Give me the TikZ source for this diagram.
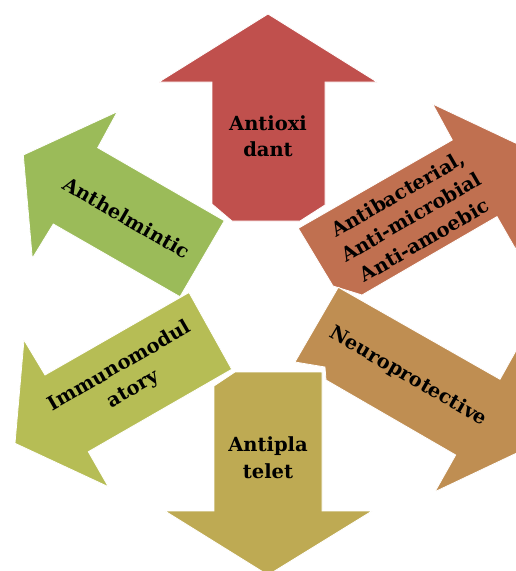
\documentclass[tikz,border=0pt]{standalone}
\usepackage{fontspec}
\setmainfont{DejaVu Serif}
\definecolor{cA}{RGB}{192,80,77}
\definecolor{cB}{RGB}{192,112,80}
\definecolor{cC}{RGB}{191,142,82}
\definecolor{cD}{RGB}{190,170,83}
\definecolor{cE}{RGB}{182,189,85}
\definecolor{cF}{RGB}{155,187,89}
\tikzset{
  arrowshape/.style={draw=white, line width=0.8pt, line join=miter},
  lbl/.style={font=\fontsize{19.5}{26.5}\selectfont\bfseries, align=center, inner sep=0pt, text=black}
}
\begin{document}
\begin{tikzpicture}[x=1pt,y=-1pt]
\useasboundingbox (0,0) rectangle (516,571);
\clip (0,0) rectangle (516,571);
% Antioxidant (up)
\fill[cA, arrowshape] (268,14) -- (377,82) -- (325,82) -- (325,205) -- (300,221) -- (232,221) -- (212,204) -- (212,82) -- (159,82) -- cycle;
% Antibacterial (up-right)
\fill[cB, arrowshape] (525,147.5) -- (516,249.7) -- (497,216.6) -- (362,295) -- (333,286) -- (298.3,228.3) -- (452.3,140) -- (432.7,104) -- cycle;
% Neuroprotective (down-right)
\fill[cC, arrowshape] (338.3,287.3) -- (500,379.3) -- (520.6,342.5) -- (529.5,447) -- (435,491.7) -- (455.7,455) -- (326,380) -- (325,367) -- (295,362) -- cycle;
% Antiplatelet (down)
\fill[cD, arrowshape] (214,386) -- (235,372) -- (322,372) -- (322,511) -- (372,511) -- (268,575) -- (165,511) -- (214,511) -- cycle;
% Immunomodulatory (down-left)
\fill[cE, arrowshape] (189,292.5) -- (231.7,369.3) -- (88.3,451.7) -- (108.3,486.7) -- (15,443.3) -- (24,340) -- (45,375) -- cycle;
% Anthelmintic (up-left)
\fill[cF, arrowshape] (23.3,155) -- (117.3,111.7) -- (97.7,147.7) -- (224.3,220.7) -- (180,296.7) -- (53.3,224) -- (32.3,258.3) -- cycle;
% labels
\node[lbl] (t1) at (268,136) {Antioxi\\dant};
\node[lbl, rotate=30] (t2) at (411,217) {Antibacterial,\\Anti-microbial\\Anti-amoebic};
\node[lbl, rotate=-30] (t3) at (408.3,376.7) {Neuroprotective};
\node[lbl] (t4) at (268,457.5) {Antipla\\telet};
\node[lbl, rotate=30] (t5) at (126.5,378) {Immunomodul\\atory};
\node[lbl, rotate=-30] (t6) at (126.7,217.5) {Anthelmintic};
\end{tikzpicture}
\end{document}
